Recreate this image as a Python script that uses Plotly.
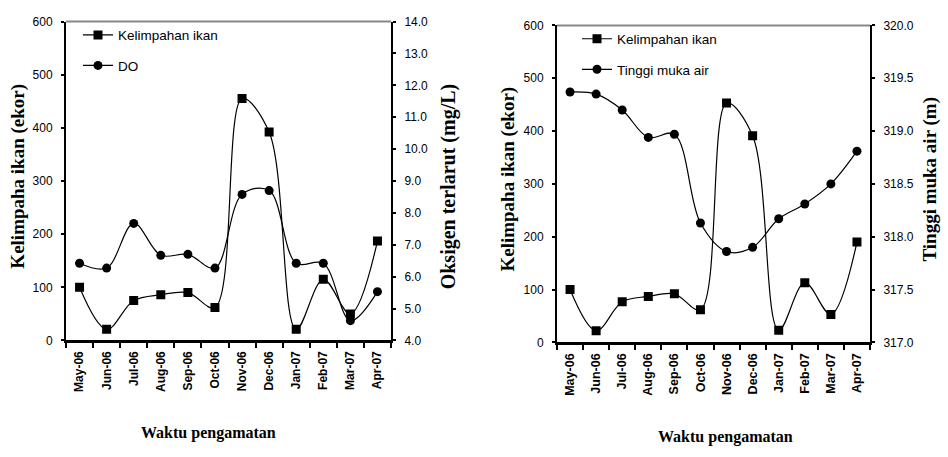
import plotly.graph_objects as go

months = ["May-06", "Jun-06", "Jul-06", "Aug-06", "Sep-06", "Oct-06",
          "Nov-06", "Dec-06", "Jan-07", "Feb-07", "Mar-07", "Apr-07"]

# Left chart
kelimpahan_a = [100, 21, 75, 86, 90, 62, 455, 392, 21, 115, 50, 187]
do_mgl = [6.42, 6.27, 7.67, 6.67, 6.70, 6.27, 8.58, 8.70, 6.42, 6.42, 4.62, 5.53]

# Right chart
kelimpahan_b = [100, 22, 77, 87, 92, 62, 453, 391, 23, 113, 53, 190]
tinggi_muka_air = [319.37, 319.35, 319.20, 318.94, 318.97, 318.13,
                   317.86, 317.90, 318.17, 318.31, 318.50, 318.81]

W, H = 948, 457
def px_x(p): return p / W
def px_y(p): return 1 - p / H

narrow = "Liberation Sans Narrow, Arial Narrow, Liberation Sans, Arial"
serif = "Liberation Serif, Times New Roman, serif"
line_style = dict(color="black", width=1.2, shape="spline", smoothing=1.0)

fig = go.Figure()
fig.add_trace(go.Scatter(x=months, y=kelimpahan_a, name="Kelimpahan ikan",
                         mode="lines+markers", line=line_style,
                         marker=dict(symbol="square", size=9, color="black"),
                         xaxis="x", yaxis="y", legend="legend", legendgroup="a1"))
fig.add_trace(go.Scatter(x=months, y=do_mgl, name="DO",
                         mode="lines+markers", line=line_style,
                         marker=dict(symbol="circle", size=9, color="black"),
                         xaxis="x", yaxis="y2", legend="legend", legendgroup="a2"))
fig.add_trace(go.Scatter(x=months, y=kelimpahan_b, name="Kelimpahan ikan",
                         mode="lines+markers", line=line_style,
                         marker=dict(symbol="square", size=9, color="black"),
                         xaxis="x2", yaxis="y3", legend="legend2", legendgroup="b1"))
fig.add_trace(go.Scatter(x=months, y=tinggi_muka_air, name="Tinggi muka air",
                         mode="lines+markers", line=line_style,
                         marker=dict(symbol="circle", size=9, color="black"),
                         xaxis="x2", yaxis="y4", legend="legend2", legendgroup="b2"))

def xaxis_style(fs):
    return dict(type="category", range=[-0.5, 11.5], tickson="boundaries",
                ticks="outside", ticklen=5, tickwidth=1.5, tickcolor="black",
                showline=True, linewidth=3, linecolor="black", showgrid=False,
                tickangle=-90, ticklabelstandoff=3,
                tickfont=dict(family="Liberation Sans, Arial", size=fs,
                              color="black", weight="bold"),
                zeroline=False)

ycommon = dict(showline=True, linewidth=2, linecolor="black", showgrid=False,
               zeroline=False, ticks="outside", ticklen=3, tickwidth=2,
               tickcolor="black", ticklabelstandoff=6,
               tickfont=dict(family=narrow, size=12, color="black"))

dom_x1 = [px_x(66), px_x(391)]
dom_y1 = [px_y(344), px_y(15)]
dom_x2 = [px_x(557), px_x(870)]
dom_y2 = [px_y(346), px_y(19)]

fig.update_layout(
    width=W, height=H, margin=dict(l=0, r=0, t=0, b=0),
    paper_bgcolor="white", plot_bgcolor="white",
    xaxis=dict(domain=dom_x1, anchor="y", **xaxis_style(12)),
    yaxis=dict(domain=dom_y1, anchor="x", range=[0, 600], dtick=100, **ycommon),
    yaxis2=dict(overlaying="y", anchor="x", side="right", range=[4, 14], dtick=1,
                tickformat=".1f", **ycommon),
    xaxis2=dict(domain=dom_x2, anchor="y3", **xaxis_style(12.5)),
    yaxis3=dict(domain=dom_y2, anchor="x2", range=[0, 600], dtick=100, **ycommon),
    yaxis4=dict(overlaying="y3", anchor="x2", side="right", range=[317, 320], dtick=0.5,
                tickformat=".1f", **ycommon),
    legend=dict(x=px_x(78), y=px_y(13), xanchor="left", yanchor="top",
                bgcolor="rgba(0,0,0,0)", tracegroupgap=10, itemwidth=30,
                font=dict(family=narrow, size=13.5, color="black")),
    legend2=dict(x=px_x(577), y=px_y(17), xanchor="left", yanchor="top",
                 bgcolor="rgba(0,0,0,0)", tracegroupgap=10, itemwidth=30,
                 font=dict(family=narrow, size=13.5, color="black")),
    showlegend=True,
)

# gray top frame lines
for xr, yr in (("x domain", "y domain"), ("x2 domain", "y3 domain")):
    fig.add_shape(type="line", xref=xr, yref=yr, x0=0, x1=1, y0=1, y1=1,
                  line=dict(color="#888888", width=2))

def tfont(sz):
    return dict(family=serif, size=sz, color="black", weight="bold")

ann = [
    dict(text="Kelimpaha ikan (ekor)", x=px_x(18), y=px_y(175), textangle=-90, font=tfont(19)),
    dict(text="Oksigen terlarut (mg/L)", x=px_x(448), y=px_y(185), textangle=-90, font=tfont(20)),
    dict(text="Waktu pengamatan", x=px_x(208), y=px_y(439), textangle=0, font=tfont(16)),
    dict(text="Kelimpaha ikan (ekor)", x=px_x(508), y=px_y(178), textangle=-90, font=tfont(19)),
    dict(text="Tinggi muka air (m)", x=px_x(930), y=px_y(178), textangle=-90, font=tfont(19)),
    dict(text="Waktu pengamatan", x=px_x(725), y=px_y(444), textangle=0, font=tfont(16)),
]
for a in ann:
    fig.add_annotation(xref="paper", yref="paper", showarrow=False,
                       xanchor="center", yanchor="middle", **a)

fig.write_html("out.html")
